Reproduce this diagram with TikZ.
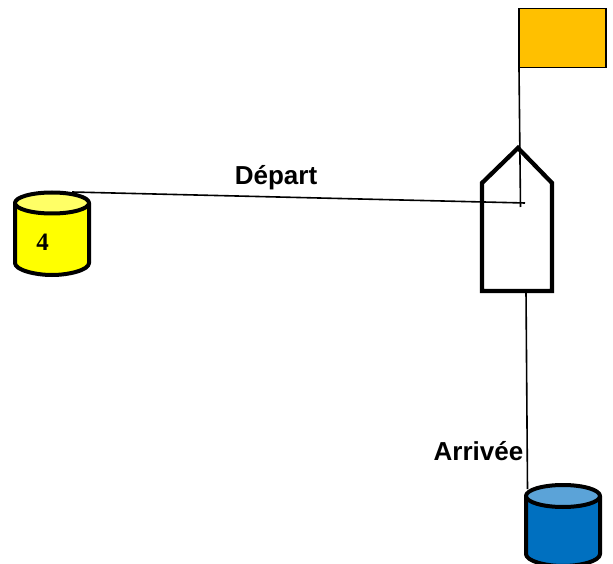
\documentclass[tikz,border=0pt]{standalone}
\usepackage{fontspec}
\setmainfont{Liberation Sans}
\newfontfamily\serifbold{Liberation Serif}
\definecolor{flagc}{RGB}{255,192,0}
\definecolor{yelbody}{RGB}{255,255,0}
\definecolor{yeltop}{RGB}{255,255,102}
\definecolor{blubody}{RGB}{0,112,192}
\definecolor{blutop}{RGB}{91,163,216}
\tikzset{
  lbl/.style={font=\fontsize{26}{30}\selectfont\bfseries, inner sep=0pt},
  link/.style={draw=black, line width=1.6pt},
  shapeline/.style={draw=black, line width=4pt, line join=round},
  boatline/.style={draw=black, line width=4.3pt, line join=miter},
}
\begin{document}
\begin{tikzpicture}[x=1pt,y=-1pt]
\useasboundingbox (0,0) rectangle (613,564);
% named anchors
\coordinate (flagfoot) at (519,68);
\coordinate (poleend) at (520.5,207);
\coordinate (buoyY) at (72,192);
\coordinate (departend) at (525,203);
\coordinate (boatstern) at (526,291);
\coordinate (buoyB) at (527.5,489);
% links below the shapes
\draw[link] (boatstern) -- (buoyB);
% flag
\node[draw=black, line width=1.9pt, fill=flagc, minimum width=87pt, minimum height=59pt, inner sep=0pt, outer sep=0pt] (flag) at (562.5,38) {};
% boat
\draw[boatline] (518,148) -- (552,183) -- (552,291) -- (482,291) -- (482,183) -- cycle;
\draw[link] (flagfoot) -- (poleend);
% yellow buoy
\path[fill=yelbody, shapeline] (15,203) -- (15,263) .. controls (15,270) and (35,275) .. (52,275) .. controls (69,275) and (89,270) .. (89,263) -- (89,203);
\draw[fill=yeltop, shapeline] (52,203) ellipse [x radius=37, y radius=10.5];
\draw[link] (buoyY) -- (departend);
% blue buoy
\path[fill=blubody, shapeline] (526,496) -- (526,554) .. controls (526,561) and (545,566) .. (563,566) .. controls (581,566) and (600,561) .. (600,554) -- (600,496);
\draw[fill=blutop, shapeline] (563,496) ellipse [x radius=37, y radius=11];
% labels
\node[lbl, anchor=base] (depart) at (276,184.5) {Départ};
\node[lbl, anchor=base] (arrivee) at (478.5,460) {Arrivée};
\node[font=\serifbold\fontsize{25}{28}\selectfont\bfseries, inner sep=0pt, anchor=base] (four) at (42.5,251) {4};
\end{tikzpicture}
\end{document}
